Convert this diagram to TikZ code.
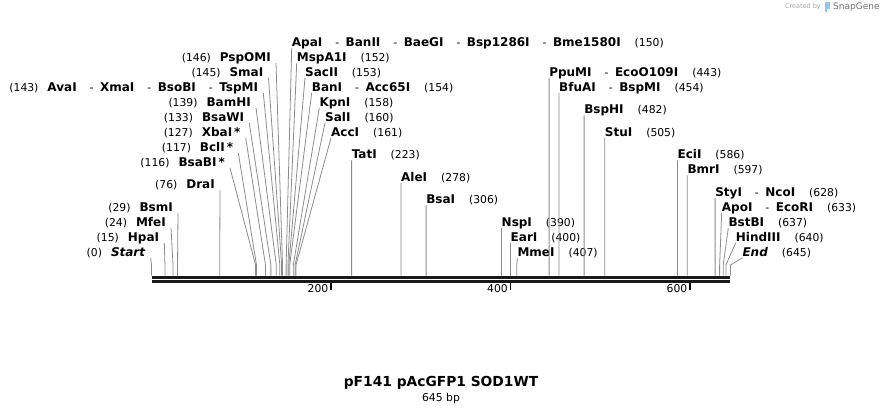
\documentclass[tikz,border=0pt]{standalone}
\usepackage{fontspec}
\setmainfont{DejaVu Sans}
\usetikzlibrary{positioning}
\definecolor{leadgray}{RGB}{140,140,140}
\definecolor{sgblue}{RGB}{64,160,220}
\newcommand\enz[1]{\textbf{#1}}
\newcommand\sitenum[1]{{\fontsize{10.8}{12}\selectfont(#1)}}
\newcommand\dsh{\hspace{13pt}{\mdseries\fontsize{10.8}{12}\selectfont-}\hspace{6.5pt}}
\tikzset{
    %Define style for the leader lines
    leader/.style={
           draw=leadgray,
           line width=0.8pt},
    %Define styles for the labels
    llabel/.style={
           inner sep=0pt,
           anchor=base east,
           font=\fontsize{12}{14}\selectfont},
    rlabel/.style={
           inner sep=0pt,
           anchor=base west,
           font=\fontsize{12}{14}\selectfont},
    % Define style for the sequence
    backbone/.style={
           line width=3pt,
           draw=black!90},
    ruletick/.style={
           line width=1.6pt},
}

\begin{document}
\begin{tikzpicture}[x=1pt,y=-1pt]
\useasboundingbox (0,0) rectangle (883,415);
% sequence line
\coordinate (b0) at (151.5,277);
\coordinate (b645) at (730.4,277);
\draw[backbone] (b0) -- (b645);
\draw[backbone] ([yshift=-4.3pt]b0) -- ([yshift=-4.3pt]b645);
% ruler
\foreach \t in {200,400,600}{
  \pgfmathsetmacro\tx{151.5+\t*0.8975}
  \coordinate (k\t) at (\tx,283);
  \coordinate (ke\t) at (\tx,290);
  \draw[ruletick] (k\t) -- (ke\t);
  \node[anchor=east, inner sep=0pt, font=\fontsize{10.8}{12}\selectfont] (kl\t) at (\tx-2.5,289) {\t};
}
% sites with labels on the left
\foreach \p/\lx/\ly/\txt in {
  146/271/56.7/\sitenum{146}\hspace{9pt}\enz{PspOMI},
  145/263.5/71.7/\sitenum{145}\hspace{9pt}\enz{SmaI},
  143/258.3/86.7/\sitenum{143}\hspace{9pt}\enz{AvaI}\dsh\enz{XmaI}\dsh\enz{BsoBI}\dsh\enz{TspMI},
  139/251/101.7/\sitenum{139}\hspace{9pt}\enz{BamHI},
  133/244.3/116.7/\sitenum{133}\hspace{9pt}\enz{BsaWI},
  127/240.7/131.7/\sitenum{127}\hspace{9pt}\enz{XbaI\,*},
  117/233.3/146.7/\sitenum{117}\hspace{9pt}\enz{BclI\,*},
  116/225/161.7/\sitenum{116}\hspace{9pt}\enz{BsaBI\,*},
  76/215/184.2/\sitenum{76}\hspace{9pt}\enz{DraI},
  29/173/206.7/\sitenum{29}\hspace{9pt}\enz{BsmI},
  24/166/221.7/\sitenum{24}\hspace{9pt}\enz{MfeI},
  15/159.3/236.7/\sitenum{15}\hspace{9pt}\enz{HpaI},
  0/145.7/251.7/\sitenum{0}\hspace{9pt}\enz{\textit{Start}}}{
  \pgfmathsetmacro\sx{151.5+\p*0.8975}
  \coordinate (s\p) at (\sx,275.5);
  \coordinate (t\p) at (\sx,265);
  \node[llabel] (l\p) at (\lx,\ly+4.4) {\txt};
  \draw[leader] (s\p) -- (t\p) -- ([shift={(5pt,-1.8pt)}]l\p.base east);
}
% sites with labels on the right
\foreach \p/\lx/\ly/\txt in {
  150/291.7/41.7/\enz{ApaI}\dsh\enz{BanII}\dsh\enz{BaeGI}\dsh\enz{Bsp1286I}\dsh\enz{Bme1580I}\hspace{14pt}\sitenum{150},
  152/296.7/56.7/\enz{MspA1I}\hspace{14pt}\sitenum{152},
  153/305/71.7/\enz{SacII}\hspace{14pt}\sitenum{153},
  154/311.7/86.7/\enz{BanI}\dsh\enz{Acc65I}\hspace{14pt}\sitenum{154},
  158/319.3/101.7/\enz{KpnI}\hspace{14pt}\sitenum{158},
  160/325/116.7/\enz{SalI}\hspace{14pt}\sitenum{160},
  161/331/131.7/\enz{AccI}\hspace{14pt}\sitenum{161},
  223/351.6/154.2/\enz{TatI}\hspace{14pt}\sitenum{223},
  278/401/176.7/\enz{AleI}\hspace{14pt}\sitenum{278},
  306/426.1/199.2/\enz{BsaI}\hspace{14pt}\sitenum{306},
  390/501.5/221.7/\enz{NspI}\hspace{14pt}\sitenum{390},
  400/510.5/236.7/\enz{EarI}\hspace{14pt}\sitenum{400},
  407/517.3/251.7/\enz{MmeI}\hspace{14pt}\sitenum{407},
  443/549.1/71.7/\enz{PpuMI}\dsh\enz{EcoO109I}\hspace{14pt}\sitenum{443},
  454/559/86.7/\enz{BfuAI}\dsh\enz{BspMI}\hspace{14pt}\sitenum{454},
  482/584.1/109.2/\enz{BspHI}\hspace{14pt}\sitenum{482},
  505/604.7/131.7/\enz{StuI}\hspace{14pt}\sitenum{505},
  586/677.4/154.2/\enz{EciI}\hspace{14pt}\sitenum{586},
  597/687.3/169.2/\enz{BmrI}\hspace{14pt}\sitenum{597},
  628/715.1/191.7/\enz{StyI}\dsh\enz{NcoI}\hspace{14pt}\sitenum{628},
  633/721.7/206.7/\enz{ApoI}\dsh\enz{EcoRI}\hspace{14pt}\sitenum{633},
  637/728.3/221.7/\enz{BstBI}\hspace{14pt}\sitenum{637},
  640/735.7/236.7/\enz{HindIII}\hspace{14pt}\sitenum{640},
  645/742.3/251.7/\enz{\textit{End}}\hspace{14pt}\sitenum{645}}{
  \pgfmathsetmacro\sx{151.5+\p*0.8975}
  \coordinate (s\p) at (\sx,275.5);
  \coordinate (t\p) at (\sx,265);
  \node[rlabel] (r\p) at (\lx,\ly+4.4) {\txt};
  \draw[leader] (s\p) -- (t\p) -- ([yshift=-1.8pt]r\p.base west);
}
% title
\node[font=\fontsize{13.8}{16}\selectfont\bfseries] (title) at (441,383) {pF141 pAcGFP1 SOD1WT};
\node[font=\fontsize{10.8}{12}\selectfont, below=3pt of title.base, anchor=north] (length) {645 bp};
% watermark
\node[anchor=east, inner sep=0pt, text=black!35, font=\fontsize{6.5}{8}\selectfont] (made) at (821,7) {Created by};
\node[anchor=west, inner sep=0pt, text=black!55, font=\fontsize{9}{10}\selectfont] (sg) at (833,7) {SnapGene};
\fill[sgblue!60] (824.5,2) rectangle (830,8.5);
\fill[sgblue!60] (824.5,2) rectangle (827,12);
\end{tikzpicture}
\end{document}
